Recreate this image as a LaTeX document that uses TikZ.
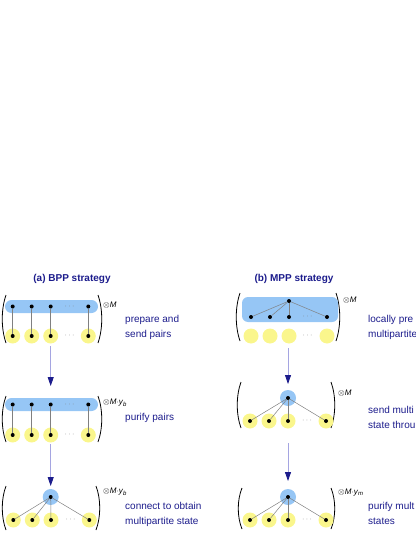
\documentclass[tikz,border=0pt]{standalone}
\usepackage{fontspec}
\setmainfont{Liberation Sans}
\usetikzlibrary{arrows.meta}

\definecolor{navytext}{RGB}{28,28,140}
\definecolor{pairblue}{RGB}{150,198,245}
\definecolor{qyellow}{RGB}{250,246,140}
\definecolor{arrowline}{RGB}{165,165,225}

\begin{document}
\begin{tikzpicture}[x=1pt, y=-1pt,
    qubit/.style={circle, fill=qyellow, minimum size=15pt, inner sep=0pt},
    hub/.style={circle, fill=pairblue, minimum size=16pt, inner sep=0pt},
    dot/.style={circle, fill=black, minimum size=4pt, inner sep=0pt},
    bond/.style={gray, line width=0.5pt},
    paren/.style={black, line width=0.8pt},
    flow/.style={arrowline, line width=0.8pt, -{Triangle[length=9pt, width=6pt, color=navytext]}},
    caption/.style={anchor=west, text=navytext, align=left, inner sep=0pt, font=\fontsize{10}{15}\selectfont},
    title/.style={text=navytext, font=\bfseries\fontsize{10}{12}\selectfont},
    power/.style={anchor=west, inner sep=0pt, font=\fontsize{8}{9}\selectfont},
    etc/.style={gray, inner sep=0pt, font=\fontsize{8}{8}\selectfont}]

    % Frame
    \useasboundingbox (0,0) rectangle (415,537);
    \clip (0,0) rectangle (415,537);

    % Titles
    \node[title] (ta) at (72,279) {(a) BPP strategy};
    \node[title] (tb) at (294,279) {(b) MPP strategy};

    % Parentheses
    \foreach \xl/\xr/\yt/\yb in {2/102/295/343, 2/102/396/442, 2/100/486/530,
                                 236/340/293/341, 237/335/382/428, 238/335/488/529}
    {
        \draw[paren] ({\xl+4},\yt) .. controls ({\xl-1},{\yt+0.3*(\yb-\yt)}) and ({\xl-1},{\yb-0.3*(\yb-\yt)}) .. ({\xl+4},\yb);
        \draw[paren] ({\xr-4},\yt) .. controls ({\xr+1},{\yt+0.3*(\yb-\yt)}) and ({\xr+1},{\yb-0.3*(\yb-\yt)}) .. ({\xr-4},\yb);
    }

    % (a) row 1: prepare pairs
    \fill[pairblue, rounded corners=6.5pt] (5,300) rectangle (98,313);
    \foreach \i/\x in {1/12.7, 2/31.7, 3/50.7, 4/88.3}
    {
        \node[qubit] (a1q\i) at (\x,336) {};
        \node[dot] (a1u\i) at (\x,306.5) {};
        \node[dot] (a1l\i) at (a1q\i) {};
        \draw[bond] (a1u\i) -- (a1l\i);
    }
    \node[etc] (a1e) at (69.5,306.5) {$\cdots$};
    \node[etc] (a1f) at (69.5,336) {$\cdots$};
    \node[power] (a1p) at (103,305) {$\otimes$\textit{M}};
    \node[caption] (a1c) at (125,327) {prepare and\\send pairs};

    % (a) row 2: purify pairs
    \fill[pairblue, rounded corners=6.5pt] (5,398) rectangle (98,411);
    \foreach \i/\x in {1/12.7, 2/31.7, 3/50.7, 4/88.3}
    {
        \node[qubit] (a2q\i) at (\x,435) {};
        \node[dot] (a2u\i) at (\x,404.5) {};
        \node[dot] (a2l\i) at (a2q\i) {};
        \draw[bond] (a2u\i) -- (a2l\i);
    }
    \node[etc] (a2e) at (69.5,404.5) {$\cdots$};
    \node[etc] (a2f) at (69.5,435) {$\cdots$};
    \node[power] (a2p) at (103,403) {$\otimes$\textit{M}$\cdot$\textit{y}\textsubscript{\textit{b}}};
    \node[caption] (a2c) at (125,418) {purify pairs};

    % (a) row 3: connect
    \node[hub] (a3h) at (50.7,497) {};
    \node[dot] (a3c) at (a3h) {};
    \foreach \i/\x in {1/13.3, 2/32.3, 3/51, 4/89.3}
    {
        \node[qubit] (a3q\i) at (\x,520) {};
        \node[dot] (a3l\i) at (a3q\i) {};
        \draw[bond] (a3c) -- (a3l\i);
    }
    \node[etc] (a3f) at (70.5,520) {$\cdots$};
    \node[power] (a3p) at (103,492) {$\otimes$\textit{M}$\cdot$\textit{y}\textsubscript{\textit{b}}};
    \node[caption] (a3t) at (125,514) {connect to obtain\\multipartite state};

    % (b) row 1: local multipartite state
    \fill[pairblue, rounded corners=6pt] (242,297) rectangle (338,322);
    \node[dot] (b1t) at (289,301) {};
    \foreach \i/\x in {1/251, 2/270, 3/289, 4/327}
    {
        \node[qubit] (b1q\i) at (\x,336) {};
        \node[dot] (b1u\i) at (\x,317) {};
        \draw[bond] (b1t) -- (b1u\i);
    }
    \node[etc] (b1e) at (307.5,317) {$\cdots$};
    \node[etc] (b1f) at (307.5,336) {$\cdots$};
    \node[power] (b1p) at (343,300) {$\otimes$\textit{M}};
    \node[caption] (b1c) at (368,327) {locally pre\\multipartite};

    % (b) row 2: send
    \node[hub] (b2h) at (288,398) {};
    \node[dot] (b2c) at (b2h) {};
    \foreach \i/\x in {1/250, 2/269, 3/288, 4/326}
    {
        \node[qubit] (b2q\i) at (\x,421) {};
        \node[dot] (b2l\i) at (b2q\i) {};
        \draw[bond] (b2c) -- (b2l\i);
    }
    \node[etc] (b2f) at (307,421) {$\cdots$};
    \node[power] (b2p) at (338,393) {$\otimes$\textit{M}};
    \node[caption] (b2t) at (368,417.5) {send multi\\state throu};

    % (b) row 3: purify
    \node[hub] (b3h) at (288,497) {};
    \node[dot] (b3c) at (b3h) {};
    \foreach \i/\x in {1/250, 2/269, 3/288, 4/326}
    {
        \node[qubit] (b3q\i) at (\x,520) {};
        \node[dot] (b3l\i) at (b3q\i) {};
        \draw[bond] (b3c) -- (b3l\i);
    }
    \node[etc] (b3f) at (307,520) {$\cdots$};
    \node[power] (b3p) at (338,493) {$\otimes$\textit{M}$\cdot$\textit{y}\textsubscript{\textit{m}}};
    \node[caption] (b3t) at (368,513.5) {purify mult\\states};

    % Steps
    \coordinate (a1out) at (50.7,346);
    \coordinate (a2in) at (50.7,386);
    \coordinate (a2out) at (50.7,444);
    \coordinate (a3in) at (50.7,486);
    \coordinate (b1out) at (288,348);
    \coordinate (b2in) at (288,384);
    \coordinate (b2out) at (288,443);
    \coordinate (b3in) at (288,481);
    \draw[flow] (a1out) -- (a2in);
    \draw[flow] (a2out) -- (a3in);
    \draw[flow] (b1out) -- (b2in);
    \draw[flow] (b2out) -- (b3in);

\end{tikzpicture}
\end{document}
